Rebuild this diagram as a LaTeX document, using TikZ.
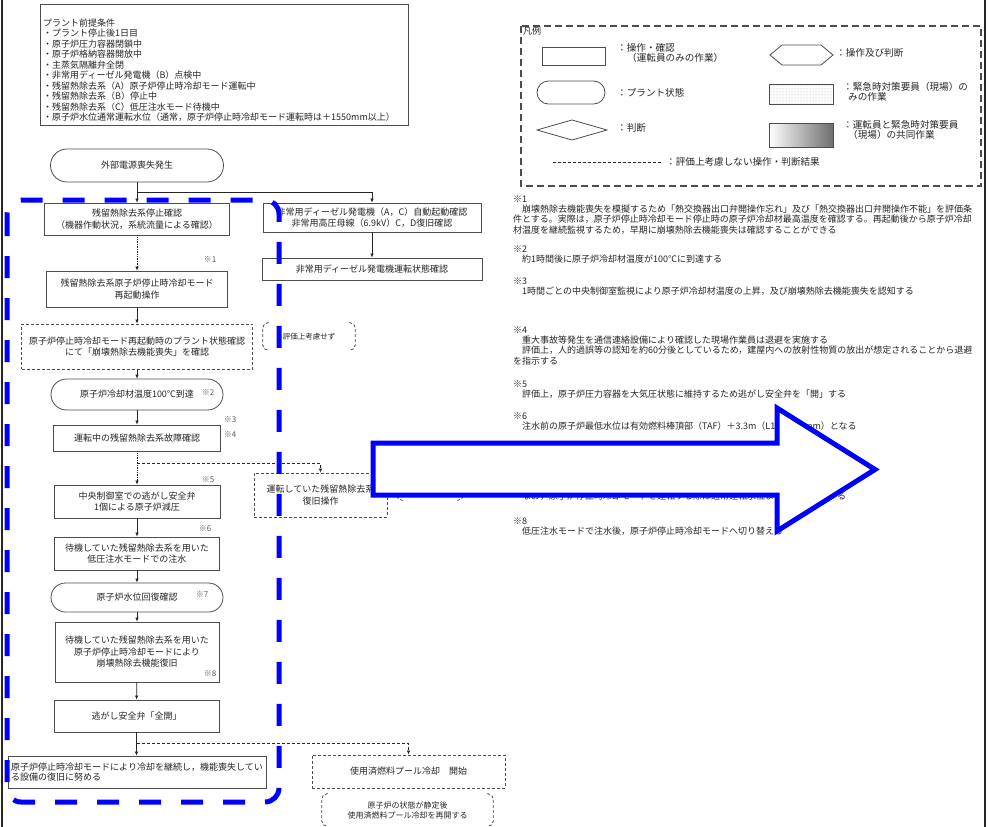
\documentclass[tikz,border=0pt]{standalone}
\usepackage{fontspec}
\setmainfont{Noto Sans CJK JP}
\usetikzlibrary{arrows.meta, patterns}
\definecolor{Ink}{HTML}{262626}
\definecolor{Frame}{HTML}{4D4D4D}
\definecolor{Zone}{HTML}{0000FF}
\definecolor{Shade}{HTML}{6E6E6E}
\tikzset{
    opnode/.style={rectangle, draw=Frame, line width=0.8pt, fill=white, text=Ink, align=center, inner sep=1pt, font=\fontsize{9}{11.5}\selectfont},
    dashnode/.style={opnode, dash pattern=on 3pt off 2pt},
    bracketnode/.style={rectangle, inner sep=0pt, text=Ink, align=center, font=\fontsize{8}{10}\selectfont},
    bracketline/.style={draw=Frame, line width=0.8pt, dash pattern=on 3pt off 2pt, rounded corners=5pt},
    marknode/.style={text=Ink!75, inner sep=0pt, font=\fontsize{8}{8}\selectfont},
    notenode/.style={anchor=north west, inner sep=0pt, align=left, text=Ink, font=\fontsize{9}{10.3}\selectfont},
    legendtext/.style={anchor=west, inner sep=0pt, align=left, text=Ink, font=\fontsize{9.6}{10.5}\selectfont},
    flowarrow/.style={-{Latex[length=4pt,width=3.5pt]}, line width=0.7pt, draw=Ink},
    dotarrow/.style={flowarrow, densely dotted},
    skiparrow/.style={flowarrow, dash pattern=on 3pt off 2pt},
    bluezone/.style={draw=Zone, line width=5pt, dash pattern=on 22pt off 20pt, rounded corners=14pt},
    bigarrow/.style={draw=Zone, line width=5pt, fill=white, line join=miter},
}

\begin{document}
\begin{tikzpicture}[x=1pt, y=-1pt]
    % 背景と外枠
    \path[use as bounding box, fill=white] (0,0) rectangle (988,827);
    \draw[line width=2pt, Ink] (2,0) -- (2,827);
    \draw[line width=2pt, Ink] (985,0) -- (985,827);

    % プラント前提条件
    \draw[line width=0.8pt, Frame] (40,4) rectangle (408,125);
    \node[notenode, font=\fontsize{9}{10.5}\selectfont] (premise) at (43,18.5) {プラント前提条件\\・プラント停止後1日目\\・原子炉圧力容器閉鎖中\\・原子炉格納容器開放中\\・主蒸気隔離弁全閉\\・非常用ディーゼル発電機（B）点検中\\・残留熱除去系（A）原子炉停止時冷却モード運転中\\・残留熱除去系（B）停止中\\・残留熱除去系（C）低圧注水モード待機中\\・原子炉水位通常運転水位（通常，原子炉停止時冷却モード運転時は＋1550mm以上）};

    % 凡例
    \draw[Frame, line width=1.2pt, dash pattern=on 7pt off 4pt] (521,26) rectangle (981,186);
    \node[legendtext, font=\fontsize{9}{10}\selectfont] (legTitle) at (523,31) {凡例};
    \node[opnode, minimum width=63pt, minimum height=18pt] (legOp) at (573.5,56) {};
    \node[opnode, rounded corners=11.5pt, minimum width=68pt, minimum height=23pt] (legState) at (571,92.5) {};
    \draw[Frame, line width=0.8pt] (537,130) -- (572,120) -- (607,130) -- (572,140) -- cycle;
    \draw[Frame, line width=0.8pt] (770,55) -- (782,45) -- (821,45) -- (833,55) -- (821,65) -- (782,65) -- cycle;
    \draw[Frame, line width=0.8pt, pattern=dots, pattern color=gray!70] (769,84) rectangle (833,104);
    \draw[Frame, line width=0.8pt, left color=white, right color=Shade] (769,123) rectangle (833,147);
    \draw[Ink, line width=0.8pt, dash pattern=on 3pt off 2pt] (553,162) -- (663,162);
    \node[legendtext] (legOpText) at (617,53) {：操作・確認\\\hspace*{10pt}（運転員のみの作業）};
    \node[legendtext] (legStateText) at (617,93) {：プラント状態};
    \node[legendtext] (legJudgeText) at (617,128) {：判断};
    \node[legendtext] (legHexText) at (836,53) {：操作及び判断};
    \node[legendtext] (legSiteText) at (843,92) {：緊急時対策要員（現場）の\\\hspace*{5pt}みの作業};
    \node[legendtext] (legJointText) at (843,130) {：運転員と緊急時対策要員\\\hspace*{5pt}（現場）の共同作業};
    \node[legendtext] (legSkipText) at (666,162) {：評価上考慮しない操作・判断結果};

    % 注記
    \node[notenode] (note1) at (513,195.5) {※1\\　崩壊熱除去機能喪失を模擬するため「熱交換器出口弁開操作忘れ」及び「熱交換器出口弁開操作不能」を評価条\\件とする。実際は，原子炉停止時冷却モード停止時の原子炉冷却材最高温度を確認する。再起動後から原子炉冷却\\材温度を継続監視するため，早期に崩壊熱除去機能喪失は確認することができる};
    \node[notenode] (note2) at (513,245.5) {※2\\　約1時間後に原子炉冷却材温度が100℃に到達する};
    \node[notenode] (note3) at (513,277.5) {※3\\　1時間ごとの中央制御室監視により原子炉冷却材温度の上昇，及び崩壊熱除去機能喪失を認知する};
    \node[notenode] (note4) at (513,326.5) {※4\\　重大事故等発生を通信連絡設備により確認した現場作業員は退避を実施する\\　評価上，人的過誤等の認知を約60分後としているため，建屋内への放射性物質の放出が想定されることから退避\\を指示する};
    \node[notenode] (note5) at (513,380.5) {※5\\　評価上，原子炉圧力容器を大気圧状態に維持するため逃がし安全弁を「開」する};
    \node[notenode] (note6) at (513,412.5) {※6\\　注水前の原子炉最低水位は有効燃料棒頂部（TAF）＋3.3m（L1＋2300mm）となる};
    \node[notenode] (note7) at (513,444.5) {※7};
    \node[notenode] (note7b) at (513,491.5) {　なお，原子炉停止時冷却モードを運転する際は通常運転水位まで水位を回復する};
    \node[notenode] (note8) at (513,517.5) {※8\\　低圧注水モードで注水後，原子炉停止時冷却モードへ切り替える};

    % 主系列
    \node[opnode, rounded corners=16.5pt, minimum width=173pt, minimum height=33pt] (lossPower) at (137,165.5) {外部電源喪失発生};
    \node[opnode, minimum width=185pt, minimum height=32pt] (rhrStop) at (137,219) {残留熱除去系停止確認\\（機器作動状況，系統流量による確認）};
    \node[opnode, minimum width=181pt, minimum height=36pt] (rhrRestart) at (137,289) {残留熱除去系原子炉停止時冷却モード\\再起動操作};
    \node[dashnode, minimum width=231pt, minimum height=45pt] (stateCheck) at (137,346.5) {原子炉停止時冷却モード再起動時のプラント状態確認\\にて「崩壊熱除去機能喪失」を確認};
    \node[opnode, rounded corners=15.5pt, minimum width=172pt, minimum height=31pt] (temp100) at (137,394.5) {原子炉冷却材温度100℃到達};
    \node[opnode, minimum width=167pt, minimum height=26pt] (rhrFault) at (137,438) {運転中の残留熱除去系故障確認};
    \node[opnode, minimum width=166pt, minimum height=33pt] (depress) at (137,501.5) {中央制御室での逃がし安全弁\\1個による原子炉減圧};
    \node[opnode, minimum width=165pt, minimum height=33pt] (lpInject) at (137,553.5) {待機していた残留熱除去系を用いた\\低圧注水モードでの注水};
    \node[opnode, rounded corners=14.5pt, minimum width=172pt, minimum height=29pt] (levelBack) at (137,597.5) {原子炉水位回復確認};
    \node[opnode, minimum width=164pt, minimum height=60pt] (heatBack) at (137,652) {待機していた残留熱除去系を用いた\\原子炉停止時冷却モードにより\\崩壊熱除去機能復旧};
    \node[opnode, minimum width=165pt, minimum height=32pt] (srvOpen) at (136.5,716) {逃がし安全弁「全開」};
    \node[opnode, align=left, font=\fontsize{9}{10.5}\selectfont, minimum width=258pt, minimum height=32pt] (keepCool) at (137,772) {原子炉停止時冷却モードにより冷却を継続し，機能喪失してい\\る設備の復旧に努める};

    % 注記番号
    \node[marknode] (mark1) at (210,260) {※1};
    \node[marknode] (mark2) at (208,393) {※2};
    \node[marknode] (mark3) at (230,420) {※3};
    \node[marknode] (mark4) at (230,435) {※4};
    \node[marknode] (mark5) at (208,480) {※5};
    \node[marknode] (mark6) at (205,529) {※6};
    \node[marknode] (mark7) at (202,595) {※7};
    \node[marknode] (mark8) at (210,674) {※8};

    % 右側の系列
    \node[opnode, minimum width=218pt, minimum height=29pt] (dgStart) at (372,217.5) {非常用ディーゼル発電機（A，C）自動起動確認\\非常用高圧母線（6.9kV）C，D復旧確認};
    \node[opnode, minimum width=220pt, minimum height=22pt] (dgRun) at (372,269) {非常用ディーゼル発電機運転状態確認};
    \node[bracketnode, font=\fontsize{7.5}{9}\selectfont, minimum width=92pt, minimum height=27pt] (noEval) at (309,336.5) {評価上考慮せず};
    \node[dashnode, minimum width=133pt, minimum height=44pt] (rhrRecover) at (320.5,495) {運転していた残留熱除去系\\復旧操作};
    \node[bracketnode, minimum width=66pt, minimum height=30pt] (hiddenNote) at (430,485) {};
    \node[dashnode, minimum width=193pt, minimum height=33pt] (poolStart) at (408.5,771.5) {使用済燃料プール冷却　開始};
    \node[bracketnode, minimum width=171pt, minimum height=32pt] (poolNote) at (407.5,810) {原子炉の状態が静定後\\使用済燃料プール冷却を再開する};

    % 括弧
    \draw[bracketline] ([xshift=6pt]noEval.north west) -- (noEval.north west) -- (noEval.south west) -- ([xshift=6pt]noEval.south west);
    \draw[bracketline] ([xshift=-6pt]noEval.north east) -- (noEval.north east) -- (noEval.south east) -- ([xshift=-6pt]noEval.south east);
    \draw[bracketline] ([xshift=6pt]hiddenNote.north west) -- (hiddenNote.north west) -- (hiddenNote.south west) -- ([xshift=6pt]hiddenNote.south west);
    \draw[bracketline] ([xshift=-6pt]hiddenNote.north east) -- (hiddenNote.north east) -- (hiddenNote.south east) -- ([xshift=-6pt]hiddenNote.south east);
    \draw[bracketline] ([xshift=6pt]poolNote.north west) -- (poolNote.north west) -- (poolNote.south west) -- ([xshift=6pt]poolNote.south west);
    \draw[bracketline] ([xshift=-6pt]poolNote.north east) -- (poolNote.north east) -- (poolNote.south east) -- ([xshift=-6pt]poolNote.south east);

    % 接続線
    \coordinate (brTop) at (137,192);
    \coordinate (brMid) at (137,463);
    \coordinate (brBot) at (137,743);
    \draw[flowarrow] (lossPower) -- (rhrStop);
    \draw[flowarrow] (brTop) -| (dgStart);
    \draw[flowarrow] (dgStart) -- (dgRun);
    \draw[dotarrow] (rhrStop) -- (rhrRestart);
    \draw[flowarrow] (rhrRestart) -- (stateCheck);
    \draw[flowarrow] (stateCheck) -- (temp100);
    \draw[flowarrow] (temp100) -- (rhrFault);
    \draw[dotarrow] (rhrFault) -- (depress);
    \draw[skiparrow] (brMid) -| (rhrRecover);
    \draw[flowarrow] (depress) -- (lpInject);
    \draw[flowarrow] (lpInject) -- (levelBack);
    \draw[flowarrow] (levelBack) -- (heatBack);
    \draw[flowarrow] (heatBack) -- (srvOpen);
    \draw[flowarrow] (srvOpen.south) -- (srvOpen.south |- keepCool.north);
    \draw[skiparrow] (brBot) -| (poolStart);

    % 青枠と矢印
    \draw[bluezone] (7,200) rectangle (279,802);
    \draw[bigarrow] (373,443) -- (777,443) -- (777,408) -- (875,469.5) -- (777,531) -- (777,495) -- (373,495) -- cycle;
\end{tikzpicture}
\end{document}
